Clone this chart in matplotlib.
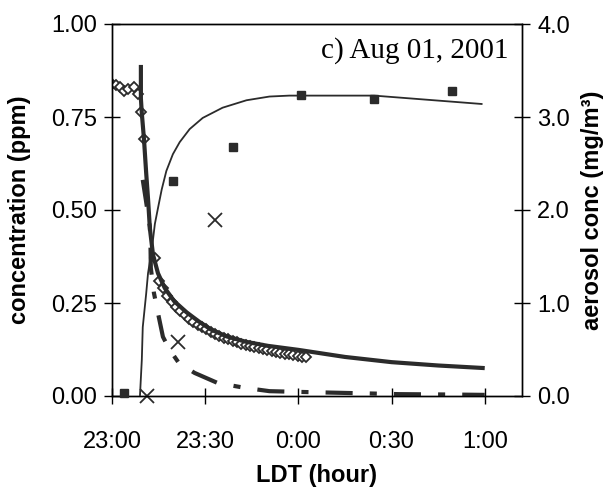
import matplotlib
matplotlib.use("Agg")
import matplotlib.pyplot as plt

# x values are minutes after 23:00 LDT
tick_minutes = [0, 30, 60, 90, 120]
tick_labels = ["23:00", "23:30", "0:00", "0:30", "1:00"]

# measured concentration (open diamonds, ppm)
diam_t = [0.0, 1.3, 2.6, 4.0, 5.3, 7.0, 8.3, 9.3, 10.3,
          13.8, 15.0, 16.4, 17.8, 19.2, 20.6, 22.0, 23.4, 24.8, 26.2, 27.6, 29.0,
          30.4, 31.8, 33.2, 34.6, 36.0, 37.4, 38.8, 40.2, 41.6, 43.0, 44.4, 45.8,
          47.2, 48.6, 50.0, 51.4, 52.8, 54.2, 55.6, 57.0, 58.4, 59.8, 61.2, 62.6]
diam_v = [0.840, 0.836, 0.831, 0.820, 0.825, 0.831, 0.812, 0.763, 0.691,
          0.371, 0.31, 0.29, 0.268, 0.252, 0.24, 0.228, 0.218, 0.208, 0.199, 0.191, 0.185,
          0.179, 0.172, 0.166, 0.161, 0.156, 0.152, 0.148, 0.145, 0.141, 0.138, 0.135, 0.132,
          0.129, 0.126, 0.123, 0.121, 0.118, 0.116, 0.114, 0.112, 0.110, 0.108, 0.106, 0.104]

# model concentration (thick solid line, ppm)
model_t = [9.3, 9.3, 9.6, 10.3, 11.0, 11.6, 12.2, 13.2, 14.8, 17.0, 20.0, 24.0, 28.0,
           32.0, 37.0, 43.0, 50.0, 60.0, 75.0, 90.0, 105.0, 120.0]
model_v = [0.89, 0.80, 0.76, 0.69, 0.60, 0.53, 0.45, 0.38, 0.33, 0.29, 0.255, 0.225, 0.20,
           0.178, 0.16, 0.146, 0.135, 0.124, 0.105, 0.091, 0.082, 0.075]

# second species, measured (crosses) and model (dashed), ppm
cross_t = [11.2, 21.2, 33.0]
cross_v = [0.0, 0.145, 0.473]
dash_t = [9.9, 10.9, 12.2, 12.4, 12.5, 13.5, 14.8, 16.4, 18.6, 21.5, 26.6, 34.0, 42.7,
          50.7, 60.3, 76.4, 92.4, 108.5, 120.0]
dash_v = [0.581, 0.527, 0.454, 0.40, 0.344, 0.277, 0.223, 0.159, 0.124, 0.089, 0.062, 0.035,
          0.022, 0.013, 0.011, 0.008, 0.005, 0.004, 0.003]

# aerosol concentration (mg/m3): measured squares and model thin line
aer_t = [3.85, 19.6, 38.8, 61.0, 84.4, 109.4]
aer_v = [0.03, 2.31, 2.68, 3.24, 3.19, 3.28]
aer_model_t = [9.0, 9.6, 9.9, 11.0, 11.6, 12.8, 13.8, 14.8, 16.0, 17.5, 19.6, 21.8, 25.0,
               29.2, 35.6, 43.3, 50.7, 57.1, 84.4, 119.0]
aer_model_v = [0.0, 0.39, 0.74, 1.10, 1.32, 1.57, 1.85, 2.02, 2.22, 2.42, 2.60, 2.73, 2.87,
               2.99, 3.10, 3.18, 3.22, 3.23, 3.23, 3.14]

plt.rcParams['font.family'] = ['Liberation Sans', 'DejaVu Sans']
C = '#2b2b2b'

fig = plt.figure(figsize=(6.11, 4.87), dpi=100)
ax = fig.add_axes([112/611, 1-396/487, 410/611, 372/487])
ax2 = ax.twinx()

ax.plot(diam_t, diam_v, linestyle='none', marker='D', ms=5.5, mfc='white', mec=C, mew=1.3, zorder=2)
ax.plot(model_t, model_v, color=C, lw=3.0, solid_capstyle='butt', zorder=3)
ax.plot(dash_t, dash_v, color=C, lw=3.0, linestyle=(0, (6.5, 4.1, 1.7, 4.1)),
        dash_capstyle='butt', zorder=3)
ax.plot(cross_t, cross_v, linestyle='none', marker='x', ms=10, mec=C, mew=1.3, zorder=4,
        clip_on=False)

ax2.plot(aer_model_t, aer_model_v, color=C, lw=1.3, zorder=3)
ax2.plot(aer_t, aer_v, linestyle='none', marker='s', ms=5.5, color=C, zorder=4, clip_on=False)

ax.set_xlim(0, 132)
ax.set_ylim(0, 1.0)
ax2.set_ylim(0, 4.0)
ax.set_xticks(tick_minutes)
ax.set_xticklabels(tick_labels)
ax.set_yticks([0, 0.25, 0.5, 0.75, 1.0])
ax.set_yticklabels(["0.00", "0.25", "0.50", "0.75", "1.00"])
ax2.set_yticks([0, 1, 2, 3, 4])
ax2.set_yticklabels(["0.0", "1.0", "2.0", "3.0", "4.0"])

fs = 17
for a in (ax, ax2):
    a.tick_params(direction='inout', length=12, width=1.0, labelsize=fs, pad=5, color='black')
    for s in a.spines.values():
        s.set_linewidth(1.0)
        s.set_color('black')
ax.tick_params(axis='x', pad=19)

ax.set_xlabel("LDT (hour)", fontsize=fs, fontweight='bold', labelpad=8)
ax.set_ylabel("concentration (ppm)", fontsize=fs, fontweight='bold', labelpad=14)
ax2.set_ylabel("aerosol conc (mg/m³)", fontsize=fs, fontweight='bold', labelpad=8)

ax.text(0.967, 0.93, "c) Aug 01, 2001", transform=ax.transAxes, ha='right', va='center',
        fontsize=21, family=['Liberation Serif', 'DejaVu Serif'])

fig.savefig("out.png", dpi=100)
